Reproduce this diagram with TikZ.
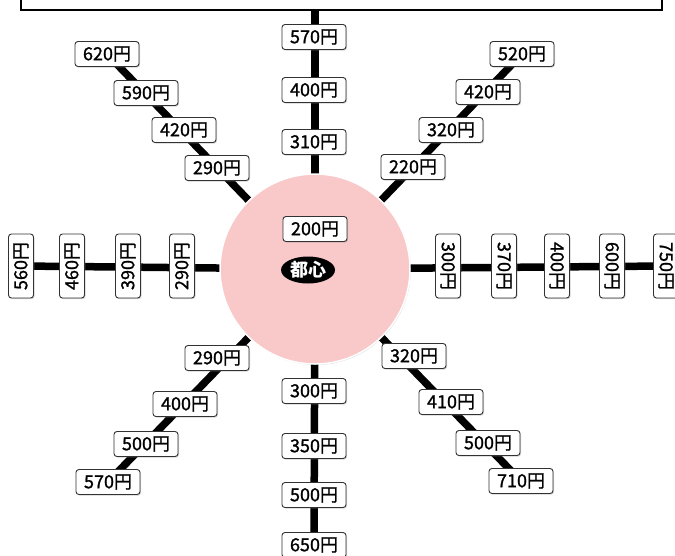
\documentclass[tikz,border=0pt]{standalone}
\usepackage{fontspec}
\setmainfont{Noto Sans CJK JP}
\newfontfamily\tagfont[FakeBold=1.2]{Noto Sans CJK JP}
\usepackage{xcolor}
\usepackage{tikz}
\usetikzlibrary{shapes.geometric, positioning, backgrounds, shadows}

\definecolor{hubpink}{RGB}{249,201,201}
\definecolor{tagline}{RGB}{50,50,50}

\begin{document}
\begin{tikzpicture}[
  x=1pt, y=-1pt,
  tag/.style={draw=tagline, line width=0.9pt, fill=white, rounded corners=3pt, minimum width=64pt,
              minimum height=25pt, inner sep=1pt, font=\tagfont\fontsize{18}{18}\selectfont,
              drop shadow={shadow xshift=1pt, shadow yshift=-1.2pt, opacity=0.35}},
  tagl/.style={tag, rotate=90},
  tagr/.style={tag, rotate=-90},
  spoke/.style={line width=7.5pt, black},
]
  \useasboundingbox (0,0) rectangle (675,555);

  % frame at the top
  \node[draw, line width=2pt, fill=white, anchor=south west, minimum width=641pt,
        minimum height=30pt, drop shadow={shadow xshift=1pt, shadow yshift=-1pt, opacity=0.3}]
        (header) at (20,11) {};

  % centre
  \node[circle, draw=white, line width=1.5pt, fill=hubpink, minimum size=190pt,
        drop shadow={shadow xshift=0.8pt, shadow yshift=-1pt, opacity=0.25}] (hub) at (315,269) {};
  \node[tag] (centre) at (315,229) {200円};
  \node[ellipse, fill=black, text=white, minimum width=54pt, minimum height=27pt, inner sep=0pt,
        font=\fontsize{18}{18}\selectfont\bfseries] (toshin) at (308,270) {都心};

  % north
  \node[tag] (n1) at (314,142) {310円};
  \node[tag] (n2) at (314,90) {400円};
  \node[tag] (n3) at (314,37) {570円};
  % south
  \node[tag] (s1) at (314,391) {300円};
  \node[tag] (s2) at (314,446) {350円};
  \node[tag] (s3) at (314,495) {500円};
  \node[tag] (s4) at (314,545) {650円};
  % west
  \node[tagl] (w1) at (182,266) {290円};
  \node[tagl] (w2) at (128,266) {390円};
  \node[tagl] (w3) at (72,266) {460円};
  \node[tagl] (w4) at (21,266) {560円};
  % east
  \node[tagr] (e1) at (448,266) {300円};
  \node[tagr] (e2) at (504,266) {370円};
  \node[tagr] (e3) at (557,266) {400円};
  \node[tagr] (e4) at (612,266) {600円};
  \node[tagr] (e5) at (666,266) {750円};
  % north-west
  \node[tag] (nw1) at (217,168) {290円};
  \node[tag] (nw2) at (184,130) {420円};
  \node[tag] (nw3) at (146,93) {590円};
  \node[tag] (nw4) at (107,54) {620円};
  % north-east
  \node[tag] (ne1) at (413,167) {220円};
  \node[tag] (ne2) at (451,130) {320円};
  \node[tag] (ne3) at (488,92) {420円};
  \node[tag] (ne4) at (522,54) {520円};
  % south-west
  \node[tag] (sw1) at (217,358) {290円};
  \node[tag] (sw2) at (185,404) {400円};
  \node[tag] (sw3) at (146,444) {500円};
  \node[tag] (sw4) at (108,482) {570円};
  % south-east
  \node[tag] (se1) at (414,356) {320円};
  \node[tag] (se2) at (451,402) {410円};
  \node[tag] (se3) at (488,443) {500円};
  \node[tag] (se4) at (521,481) {710円};

  \begin{scope}[on background layer]
    \draw[spoke] (hub.center) -- (hub.center |- header.south);
    \draw[spoke] (hub.center) -- (s4.center);
    \draw[spoke] (hub.center) -- (w4.center);
    \draw[spoke] (hub.center) -- (e5.center);
    \draw[spoke] (hub.center) -- (nw4.center);
    \draw[spoke] (hub.center) -- (ne4.center);
    \draw[spoke] (hub.center) -- (sw4.center);
    \draw[spoke] (hub.center) -- (se4.center);
  \end{scope}

\end{tikzpicture}
\end{document}
